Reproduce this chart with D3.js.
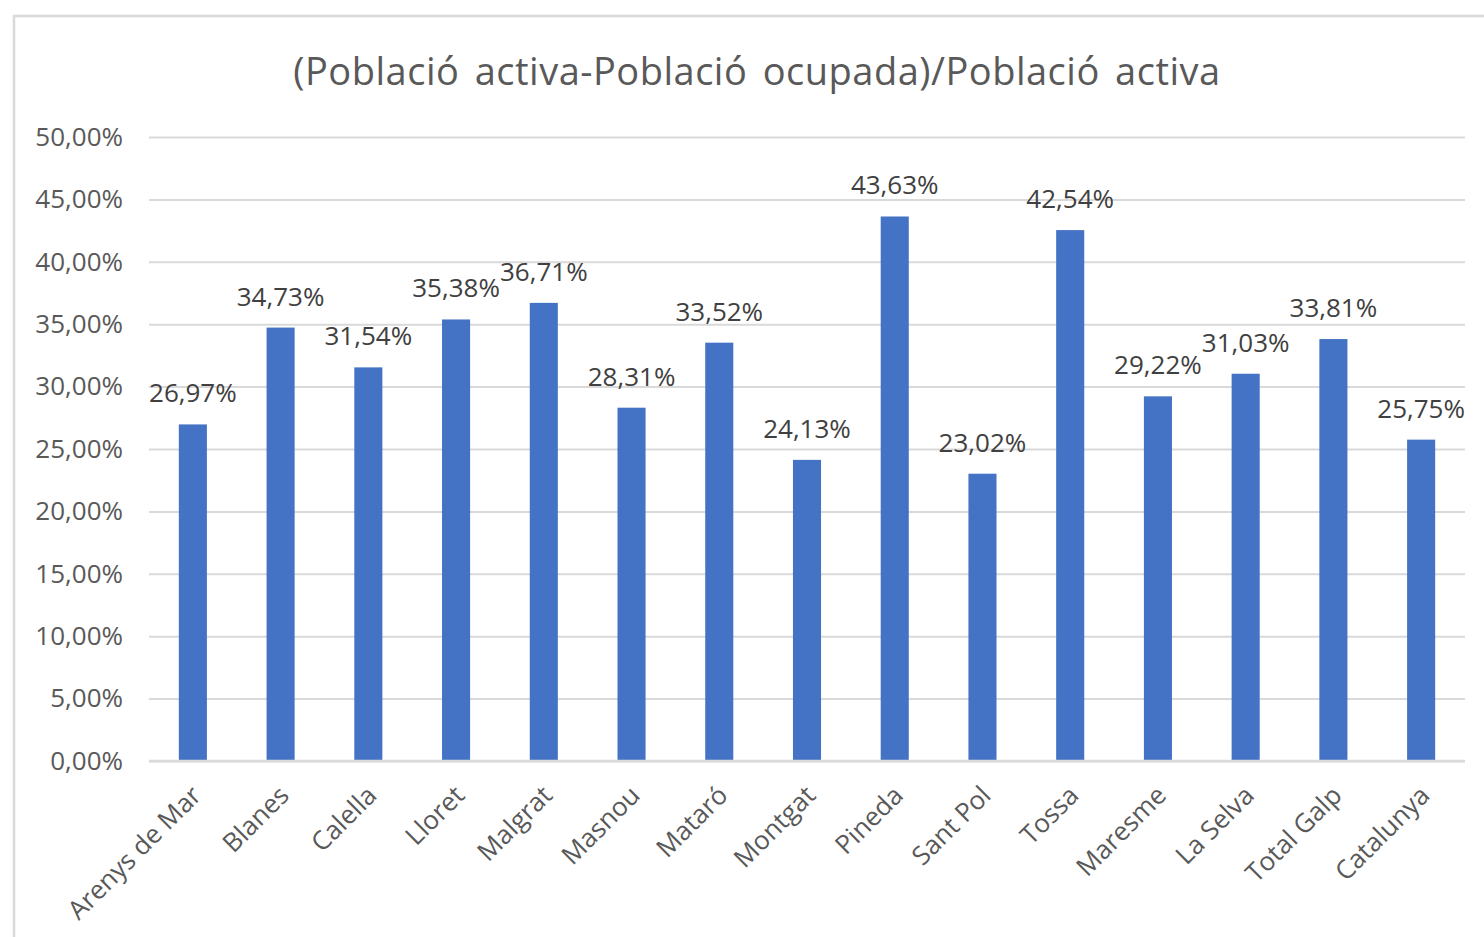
<!DOCTYPE html>
<html>
<head>
<meta charset="utf-8">
<script src="https://cdn.jsdelivr.net/npm/d3@7"></script>
<style>
  body { margin: 0; background: #fff; }
  svg { display: block; font-family: "Open Sans", sans-serif; }
</style>
</head>
<body>
<div id="chart"></div>
<script>
// Taxa d'atur: (Població activa - Població ocupada) / Població activa

const municipis = ["Arenys de Mar", "Blanes", "Calella", "Lloret", "Malgrat", "Masnou", "Mataró",
    "Montgat", "Pineda", "Sant Pol", "Tossa", "Maresme", "La Selva", "Total Galp", "Catalunya"];
const taxa = [26.97, 34.73, 31.54, 35.38, 36.71, 28.31, 33.52, 24.13, 43.63, 23.02, 42.54, 29.22, 31.03, 33.81, 25.75];
const yTicks = [0, 5, 10, 15, 20, 25, 30, 35, 40, 45, 50];

const width = 1484,
    height = 937,
    margin = ({top: 137, right: 19, bottom: 176, left: 149});

const fmt = v => v.toFixed(2).replace(".", ",") + "%";

let svg = d3.select("#chart")
    .append("svg")
    .attr("width", width)
    .attr("height", height)
    .attr("viewBox", [0, 0, width, height]);

// chart frame
svg.append("rect")
    .attr("x", 14).attr("y", 16)
    .attr("width", width + 20).attr("height", height + 20)
    .attr("fill", "#fff")
    .attr("stroke", "#d9d9d9")
    .attr("stroke-width", 2.5);

svg.append("text")
    .attr("x", 757)
    .attr("y", 85)
    .attr("text-anchor", "middle")
    .style("font-size", "38px")
    .style("letter-spacing", "0.5px")
    .style("word-spacing", "5px")
    .style("fill", "#595959")
    .text("(Població activa-Població ocupada)/Població activa");

const x = d3.scaleBand()
    .domain(municipis)
    .range([margin.left, width - margin.right])
    .paddingInner(0.68)
    .paddingOuter(0.34);

const y = d3.scaleLinear()
    .domain([0, 50])
    .range([height - margin.bottom, margin.top]);

// gridlines + y labels
const yAxis = g => g
    .attr("transform", `translate(${margin.left},0)`)
    .call(d3.axisLeft(y).tickValues(yTicks).tickFormat(fmt)
        .tickSize(-(width - margin.left - margin.right)).tickPadding(26))
    .call(g => g.select(".domain").remove())
    .call(g => g.selectAll("line").attr("stroke", "#d9d9d9").attr("stroke-width", 2))
    .call(g => g.selectAll("text")
        .attr("fill", "#595959")
        .style("font-size", "26px")
        .style("font-family", "Open Sans, sans-serif"));

svg.append("g").call(yAxis);

let bar = svg.selectAll(".bar")
    .data(municipis)
    .join("g")
    .attr("class", "bar");

bar.append("rect")
    .attr("fill", "#4472c4")
    .attr("x", d => x(d))
    .attr("width", x.bandwidth())
    .attr("y", (d, i) => y(taxa[i]))
    .attr("height", (d, i) => y(0) - y(taxa[i]));

bar.append("text")
    .text((d, i) => fmt(taxa[i]))
    .attr("x", d => x(d) + x.bandwidth() / 2)
    .attr("y", (d, i) => y(taxa[i]) - 22)
    .attr("text-anchor", "middle")
    .style("font-size", "26px")
    .style("fill", "#404040");

// x baseline
svg.append("line")
    .attr("x1", margin.left).attr("x2", width - margin.right)
    .attr("y1", y(0)).attr("y2", y(0))
    .attr("stroke", "#d9d9d9")
    .attr("stroke-width", 2.5);

// rotated category labels
svg.append("g")
    .selectAll("text")
    .data(municipis)
    .join("text")
    .attr("transform", d => `translate(${x(d) + x.bandwidth() / 2 + 10},${y(0) + 36}) rotate(-45)`)
    .attr("text-anchor", "end")
    .style("font-size", "26px")
    .style("fill", "#595959")
    .text(d => d);
</script>
</body>
</html>
